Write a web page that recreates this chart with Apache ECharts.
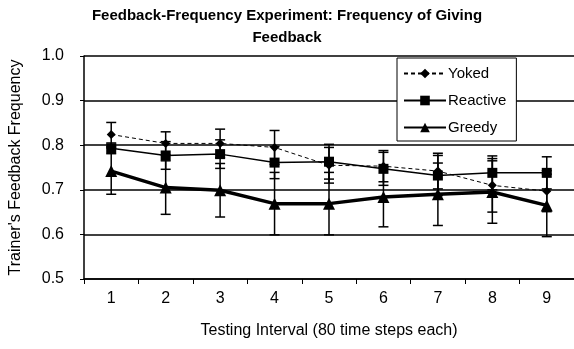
<!DOCTYPE html>
<html>
<head>
<meta charset="utf-8">
<script src="https://cdn.jsdelivr.net/npm/echarts@6/dist/echarts.min.js"></script>
<style>
  html, body { margin: 0; padding: 0; background: #fff; }
  #chart { width: 574px; height: 349px; }
</style>
</head>
<body>
<div id="chart"></div>
<script>
const categories = ['1', '2', '3', '4', '5', '6', '7', '8', '9']
const yTicks = [0.5, 0.6, 0.7, 0.8, 0.9, 1.0]

const yoked = [0.824, 0.804, 0.804, 0.795, 0.755, 0.753, 0.742, 0.710, 0.697]
const yokedErr = [0.027, 0.026, 0.032, 0.038, 0.040, 0.035, 0.040, 0.060, 0.046]

const reactive = [0.793, 0.777, 0.780, 0.761, 0.763, 0.747, 0.732, 0.738, 0.738]
const reactiveErr = [0.012, 0.031, 0.032, 0.036, 0.039, 0.037, 0.045, 0.038, 0.036]

const greedy = [0.742, 0.705, 0.699, 0.669, 0.669, 0.684, 0.690, 0.695, 0.665]
const greedyErr = [0.052, 0.060, 0.060, 0.070, 0.070, 0.067, 0.070, 0.070, 0.070]

const font = '"Liberation Sans", Arial, sans-serif'

const errData = (vals, errs) =>
  vals.map((v, i) => [i, v - errs[i], v + errs[i]])

function renderErr(params, api) {
  const x = api.value(0)
  const top = api.coord([x, api.value(2)])
  const bot = api.coord([x, api.value(1)])
  const hw = 5
  const style = { stroke: '#000', lineWidth: 1.5 }
  return {
    type: 'group',
    children: [
      { type: 'line', shape: { x1: top[0], y1: top[1], x2: bot[0], y2: bot[1] }, style },
      { type: 'line', shape: { x1: top[0] - hw, y1: top[1], x2: top[0] + hw, y2: top[1] }, style },
      { type: 'line', shape: { x1: bot[0] - hw, y1: bot[1], x2: bot[0] + hw, y2: bot[1] }, style },
    ],
  }
}

const errSeries = (vals, errs) => ({
  type: 'custom',
  renderItem: renderErr,
  data: errData(vals, errs),
  z: 3,
  silent: true,
})

const chart = echarts.init(document.getElementById('chart'), null, { renderer: 'canvas' })

chart.setOption({
  animation: false,
  textStyle: { fontFamily: font, color: '#000' },
  title: {
    text: 'Feedback-Frequency Experiment: Frequency of Giving\nFeedback',
    left: 'center',
    top: 0,
    textStyle: { fontFamily: font, fontSize: 15, fontWeight: 'bold', lineHeight: 22, color: '#000' },
  },
  grid: { left: 82, right: 0, top: 56, bottom: 70, containLabel: false },
  legend: {
    data: ['Yoked', 'Reactive', 'Greedy'],
    orient: 'vertical',
    left: 397,
    top: 58,
    itemWidth: 42,
    itemHeight: 12,
    itemGap: 12,
    padding: [8, 10, 6, 6],
    backgroundColor: '#fff',
    borderColor: '#000',
    borderWidth: 1,
    borderRadius: 0,
    textStyle: { fontFamily: font, fontSize: 15, color: '#000', padding: [0, 0, 0, -3] },
  },
  xAxis: {
    type: 'category',
    data: categories,
    boundaryGap: true,
    name: 'Testing Interval (80 time steps each)',
    nameLocation: 'middle',
    nameGap: 44,
    nameTextStyle: { fontSize: 16, color: '#000', fontFamily: font },
    axisLine: { lineStyle: { color: '#000', width: 1.5 } },
    axisTick: { show: true, length: 5, inside: false, lineStyle: { color: '#000' } },
    axisLabel: { fontSize: 16, color: '#000', margin: 12 },
    splitLine: { show: false },
  },
  yAxis: {
    type: 'value',
    min: yTicks[0],
    max: yTicks[yTicks.length - 1],
    interval: 0.1,
    name: "Trainer's Feedback Frequency",
    nameLocation: 'middle',
    nameGap: 60,
    nameTextStyle: { fontSize: 16, color: '#000', fontFamily: font },
    axisLine: { show: true, lineStyle: { color: '#000', width: 1.5 } },
    axisTick: { show: true, length: 4, lineStyle: { color: '#000' } },
    axisLabel: { fontSize: 16, color: '#000', margin: 20, formatter: (v) => v.toFixed(1) },
    splitLine: { show: true, lineStyle: { color: '#000', width: 1.5 } },
  },
  series: [
    errSeries(yoked, yokedErr),
    errSeries(reactive, reactiveErr),
    errSeries(greedy, greedyErr),
    {
      name: 'Yoked',
      type: 'line',
      data: yoked,
      symbol: 'diamond',
      symbolSize: 9,
      itemStyle: { color: '#000' },
      lineStyle: { color: '#000', width: 1, type: [4, 3] },
      z: 4,
    },
    {
      name: 'Reactive',
      type: 'line',
      data: reactive,
      symbol: 'rect',
      symbolSize: 10,
      itemStyle: { color: '#000' },
      lineStyle: { color: '#000', width: 1.5 },
      z: 4,
    },
    {
      name: 'Greedy',
      type: 'line',
      data: greedy,
      symbol: 'triangle',
      symbolSize: 12,
      itemStyle: { color: '#000' },
      lineStyle: { color: '#000', width: 3.5 },
      z: 4,
    },
  ],
})
</script>
</body>
</html>
